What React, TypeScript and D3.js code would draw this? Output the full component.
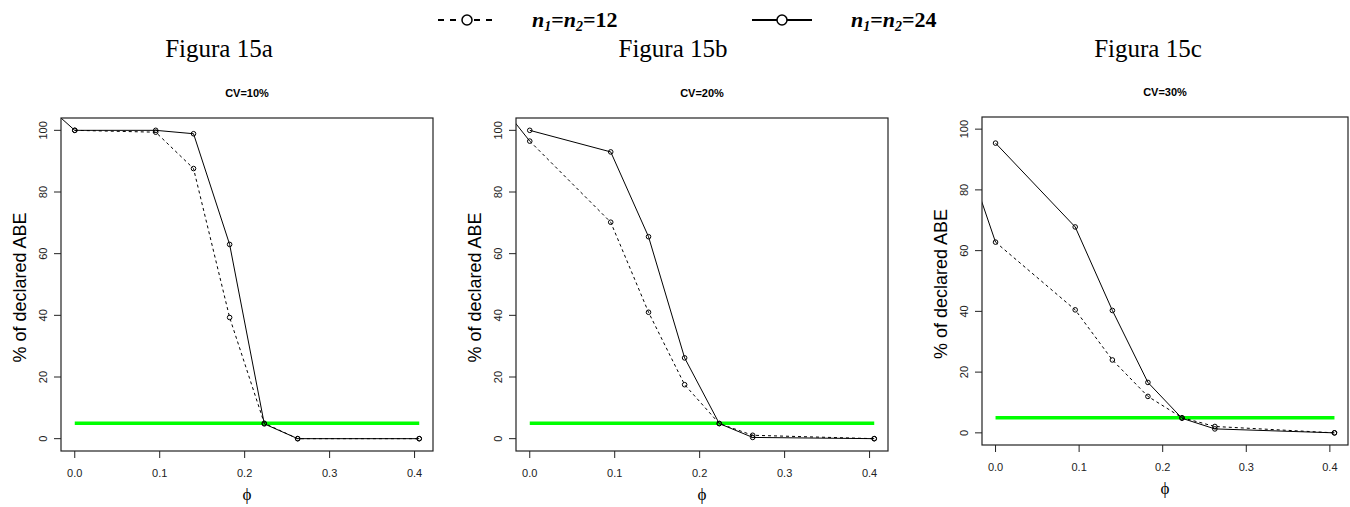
import * as d3 from "d3";

// x values: phi = ln(ratio)
const phi = [0, 0.0953, 0.1398, 0.1823, 0.2231, 0.2624, 0.4055];

// % of declared ABE, one row per panel (CV=10%, 20%, 30%)
const n12 = [
  [100, 99.4, 87.6, 39.3, 5, 0, 0],
  [96.5, 70.2, 41, 17.5, 4.9, 1.1, 0],
  [62.8, 40.5, 24, 12, 5, 2.1, 0],
];
const n24 = [
  [100, 100, 98.9, 63, 4.8, 0, 0],
  [100, 93, 65.5, 26.2, 4.9, 0.4, 0],
  [95.4, 67.8, 40.3, 16.6, 4.8, 1.3, 0],
];

// clipped segment coming in from the left of each panel
const leadX = -0.03;
const leadY = [107.4, 106.9, 87];

const refLevel = 5;
const panelTitles = ["CV=10%", "CV=20%", "CV=30%"];
const figureLabels = ["Figura 15a", "Figura 15b", "Figura 15c"];
const xTicks = [0, 0.1, 0.2, 0.3, 0.4];
const yTicks = [0, 20, 40, 60, 80, 100];

// plot boxes (pixels)
const boxes = [
  { left: 61, right: 433, top: 118, bottom: 451 },
  { left: 516, right: 888, top: 118, bottom: 451 },
  { left: 982, right: 1348, top: 117, bottom: 445 },
];
const figLabelX = [219, 673, 1148];

const SANS = "'Liberation Sans', Arial, sans-serif";
const SERIF = "'Liberation Serif', 'Times New Roman', serif";

function Panel({ i }: { i: number }) {
  const b = boxes[i];
  const x = d3.scaleLinear([-0.0162, 0.4217], [b.left, b.right]);
  const y = d3.scaleLinear([-4, 104], [b.bottom, b.top]);
  const line = d3.line<[number, number]>(d => x(d[0]), d => y(d[1]));
  const dashed = phi.map((p, k) => [p, n12[i][k]] as [number, number]);
  const solid = phi.map((p, k) => [p, n24[i][k]] as [number, number]);
  const lead: [number, number][] = [[leadX, leadY[i]], [0, n12[i][0]]];
  const cx = (b.left + b.right) / 2;
  const cy = (b.top + b.bottom) / 2;
  return (
    <g>
      <defs>
        <clipPath id={`clip${i}`}>
          <rect x={b.left} y={b.top} width={b.right - b.left} height={b.bottom - b.top} />
        </clipPath>
      </defs>
      <text x={cx} y={b.top - 21} textAnchor="middle" fontFamily={SANS} fontWeight="bold" fontSize={11}>
        {panelTitles[i]}
      </text>
      <g clipPath={`url(#clip${i})`} fill="none">
        <path d={line([[0, refLevel], [phi[phi.length - 1], refLevel]])!} stroke="#00ff00" strokeWidth={3.5} />
        <path d={line(lead)!} stroke="#000" strokeWidth={1} />
        <path d={line(dashed)!} stroke="#000" strokeWidth={1} strokeDasharray="3,3" />
        <path d={line(solid)!} stroke="#000" strokeWidth={1} />
        {dashed.concat(solid).map((d, k) => (
          <circle key={k} cx={x(d[0])} cy={y(d[1])} r={2.3} stroke="#000" strokeWidth={1} />
        ))}
      </g>
      <rect x={b.left} y={b.top} width={b.right - b.left} height={b.bottom - b.top}
        fill="none" stroke="#222" strokeWidth={1.2} />
      {xTicks.map(t => (
        <g key={t}>
          <line x1={x(t)} x2={x(t)} y1={b.bottom} y2={b.bottom + 7} stroke="#222" />
          <text x={x(t)} y={b.bottom + 26} textAnchor="middle" fontFamily={SANS} fontSize={11} fill="#222">
            {d3.format(".1f")(t)}
          </text>
        </g>
      ))}
      {yTicks.map(t => (
        <g key={t}>
          <line x1={b.left - 7} x2={b.left} y1={y(t)} y2={y(t)} stroke="#222" />
          <text transform={`translate(${b.left - 14},${y(t)}) rotate(-90)`} textAnchor="middle"
            fontFamily={SANS} fontSize={11} fill="#222">
            {t}
          </text>
        </g>
      ))}
      <text transform={`translate(${b.left - 35},${cy + 3}) rotate(-90)`} textAnchor="middle"
        fontFamily={SANS} fontSize={18}>
        % of declared ABE
      </text>
      <text x={cx} y={b.bottom + 49} textAnchor="middle" fontFamily={SERIF} fontSize={17}>
        ϕ
      </text>
    </g>
  );
}

function LegendLabel({ x, value }: { x: number; value: string }) {
  return (
    <text x={x} y={27} fontFamily={SERIF} fontWeight="bold" fontSize={22}>
      <tspan fontStyle="italic">n</tspan>
      <tspan fontStyle="italic" fontSize={14} dy={4}>1</tspan>
      <tspan dy={-4}>=</tspan>
      <tspan fontStyle="italic">n</tspan>
      <tspan fontStyle="italic" fontSize={14} dy={4}>2</tspan>
      <tspan dy={-4}>={value}</tspan>
    </text>
  );
}

export default function App() {
  return (
    <svg width={1350} height={507} style={{ position: "absolute", left: 0, top: 0, background: "#fff" }}>
      {/* legend */}
      <g stroke="#000" fill="none">
        <line x1={438} x2={496} y1={20} y2={20} strokeWidth={2} strokeDasharray="6,6" />
        <circle cx={467} cy={20} r={5} strokeWidth={1.5} fill="#fff" />
        <line x1={752} x2={812} y1={20} y2={20} strokeWidth={2} />
        <circle cx={782} cy={20} r={5} strokeWidth={1.5} fill="#fff" />
      </g>
      <LegendLabel x={532} value="12" />
      <LegendLabel x={851} value="24" />
      {figureLabels.map((f, i) => (
        <text key={f} x={figLabelX[i]} y={57} textAnchor="middle" fontFamily={SERIF} fontSize={25}>
          {f}
        </text>
      ))}
      {[0, 1, 2].map(i => <Panel key={i} i={i} />)}
    </svg>
  );
}
